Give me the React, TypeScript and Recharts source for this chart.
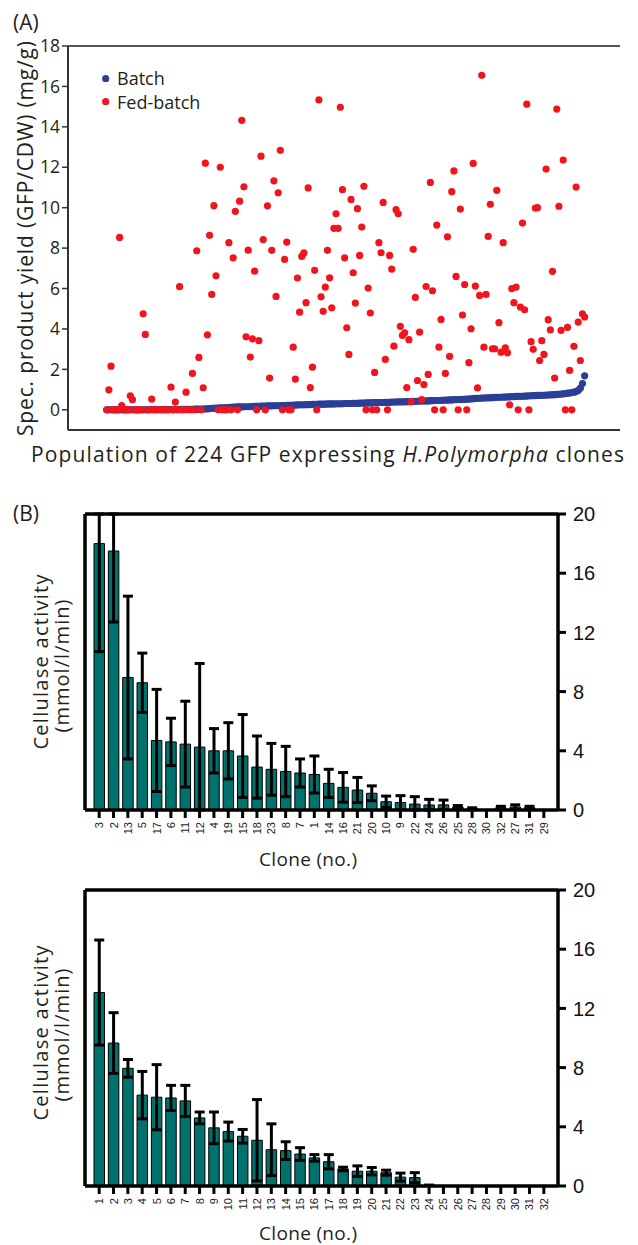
import React from 'react';
import {
  ScatterChart,
  Scatter,
  XAxis,
  YAxis,
  Legend,
  ReferenceLine,
  BarChart,
  Bar,
  ErrorBar,
} from 'recharts';

// ---------- Panel A: 224 clones, ranked by batch yield ----------
const batchYield = [
  0, 0, 0, 0, 0, 0, 0, 0, 0, 0, 0, 0, 0, 0, 0, 0,
  0, 0, 0, 0, 0.01, 0.01, 0.01, 0.01, 0.01, 0.01, 0.01, 0.01, 0.01, 0.01, 0.01, 0.01,
  0.01, 0.01, 0.01, 0.02, 0.02, 0.02, 0.02, 0.02, 0.02, 0.03, 0.03, 0.03, 0.04, 0.04, 0.05, 0.05,
  0.06, 0.07, 0.07, 0.08, 0.08, 0.09, 0.1, 0.1, 0.11, 0.11, 0.12, 0.13, 0.13, 0.14, 0.14, 0.14,
  0.15, 0.15, 0.15, 0.16, 0.16, 0.17, 0.17, 0.17, 0.18, 0.18, 0.18, 0.19, 0.19, 0.19, 0.2, 0.2,
  0.2, 0.21, 0.21, 0.21, 0.22, 0.22, 0.22, 0.23, 0.23, 0.24, 0.25, 0.25, 0.25, 0.26, 0.26, 0.26,
  0.27, 0.27, 0.27, 0.28, 0.28, 0.28, 0.28, 0.29, 0.29, 0.29, 0.29, 0.3, 0.3, 0.3, 0.3, 0.31,
  0.31, 0.31, 0.31, 0.32, 0.32, 0.32, 0.33, 0.33, 0.33, 0.34, 0.34, 0.34, 0.35, 0.35, 0.35, 0.36,
  0.36, 0.36, 0.37, 0.37, 0.37, 0.38, 0.38, 0.38, 0.39, 0.39, 0.39, 0.4, 0.4, 0.4, 0.41, 0.41,
  0.42, 0.42, 0.43, 0.43, 0.43, 0.44, 0.44, 0.45, 0.45, 0.46, 0.46, 0.46, 0.47, 0.47, 0.48, 0.48,
  0.49, 0.49, 0.5, 0.5, 0.51, 0.51, 0.52, 0.52, 0.53, 0.53, 0.54, 0.55, 0.56, 0.57, 0.57, 0.58,
  0.58, 0.59, 0.59, 0.6, 0.6, 0.61, 0.61, 0.62, 0.62, 0.63, 0.63, 0.64, 0.64, 0.65, 0.65, 0.66,
  0.66, 0.67, 0.67, 0.68, 0.68, 0.69, 0.69, 0.7, 0.7, 0.71, 0.71, 0.72, 0.72, 0.73, 0.73, 0.74,
  0.75, 0.75, 0.76, 0.77, 0.78, 0.79, 0.8, 0.82, 0.83, 0.85, 0.87, 0.9, 0.96, 1.07, 1.3, 1.68,
];

const fedBatchYield = [
  0, 0.99, 2.16, 0, 0, 0, 8.53, 0.21, 0, 0, 0, 0.69, 0.5, 0, 0, 0,
  0, 4.75, 3.73, 0, 0, 0.53, 0, 0, 0, 0, 0, 0, 0, 0, 1.12, 0,
  0.38, 0, 6.09, 0, 0, 0.87, 0, 0, 1.8, 0, 7.87, 2.59, 0, 1.09, 12.2, 3.71,
  8.63, 5.71, 10.1, 6.63, 0, 12.0, 0, 0, 0, 8.27, 0, 7.52, 9.82, 0, 10.32, 14.32,
  11.03, 3.61, 7.9, 2.61, 3.51, 6.86, 0, 3.42, 12.55, 8.42, 0, 10.09, 1.57, 7.89, 11.33, 5.61,
  10.74, 12.84, 0, 7.44, 8.3, 0, 0, 3.1, 1.52, 6.52, 4.83, 7.59, 7.76, 5.3, 10.98, 1.1,
  2.11, 6.9, 0, 15.33, 5.59, 4.87, 6.07, 7.89, 6.53, 5.05, 8.98, 9.7, 8.98, 14.97, 10.89, 7.52,
  4.06, 2.74, 10.41, 6.78, 5.28, 9.95, 7.64, 9.04, 11.06, 0, 6.02, 4.79, 0, 1.85, 0, 8.27,
  7.77, 10.26, 2.49, 0, 7.64, 6.96, 3.15, 9.9, 9.7, 4.13, 3.68, 3.81, 1.1, 3.47, 0.4, 7.94,
  5.56, 1.45, 3.84, 0.51, 1.25, 6.1, 1.75, 11.25, 5.89, 0, 9.14, 3.1, 4.47, 0, 1.8, 8.56,
  2.64, 10.79, 11.82, 6.6, 0, 9.93, 4.69, 6.2, 0, 2.33, 4.01, 12.19, 6.12, 1.08, 5.66, 16.55,
  3.1, 5.71, 8.58, 10.17, 3.02, 3.02, 10.86, 4.31, 2.85, 8.27, 3.07, 2.82, 0.25, 6.0, 5.3, 6.07,
  0, 5.08, 9.24, 4.95, 15.12, 0, 3.37, 2.99, 9.98, 10.0, 2.44, 3.42, 2.74, 11.91, 4.46, 3.96,
  6.85, 1.57, 14.88, 10.07, 3.93, 12.36, 0, 4.08, 1.95, 0, 3.14, 11.02, 4.34, 2.44, 4.75, 4.59,
];

const yieldTicks = [0, 2, 4, 6, 8, 10, 12, 14, 16, 18];
const rankTicks = Array.from({ length: 258 }, (_, i) => i - 17);

// ---------- Panel B (upper) ----------
const clonesUpper = [
  '3', '2', '13', '5', '17', '6', '11', '12', '4', '19', '15', '18', '23', '8', '7', '1',
  '14', '16', '21', '20', '10', '9', '22', '24', '26', '25', '28', '30', '32', '27', '31', '29',
];
const activityUpper = [
  18.0, 17.5, 8.95, 8.6, 4.7, 4.6, 4.45, 4.25, 4.0, 4.0, 3.65, 2.9, 2.75, 2.6, 2.5, 2.4,
  1.8, 1.53, 1.35, 1.13, 0.56, 0.5, 0.4, 0.34, 0.35, 0.2, 0.1, 0, 0.15, 0.2, 0.15, 0,
];
const errorUpper = [
  7.3, 4.8, 5.5, 2.0, 3.45, 1.6, 2.9, 5.65, 1.5, 1.9, 2.8, 2.1, 1.75, 1.7, 0.95, 1.25,
  0.95, 1.0, 0.85, 0.5, 0.38, 0.47, 0.5, 0.38, 0.32, 0.1, 0.05, 0, 0.1, 0.15, 0.1, 0,
];

// ---------- Panel B (lower) ----------
const clonesLower = [
  '1', '2', '3', '4', '5', '6', '7', '8', '9', '10', '11', '12', '13', '14', '15', '16',
  '17', '18', '19', '20', '21', '22', '23', '24', '25', '26', '27', '28', '29', '30', '31', '32',
];
const activityLower = [
  13.07, 9.66, 7.95, 6.14, 6.0, 5.95, 5.75, 4.6, 3.93, 3.68, 3.36, 3.09, 2.45, 2.39, 2.16, 1.9,
  1.64, 1.15, 1.0, 1.0, 0.9, 0.6, 0.57, 0.05, 0, 0, 0, 0, 0, 0, 0, 0,
];
const errorLower = [
  3.55, 2.05, 0.6, 1.6, 2.2, 0.85, 1.05, 0.4, 1.07, 0.64, 0.46, 2.75, 1.75, 0.6, 0.43, 0.22,
  0.48, 0.12, 0.36, 0.25, 0.17, 0.27, 0.33, 0, 0, 0, 0, 0, 0, 0, 0, 0,
];
const activityTicks = [0, 4, 8, 12, 16, 20];
const ACTIVITY_MAX = 20;

const batchData = batchYield.map((v, i) => ({ rank: i + 1, value: v }));
const fedData = fedBatchYield.map((v, i) => ({ rank: i + 1, value: v }));
const upperData = clonesUpper.map((c, i) => ({ clone: c, activity: activityUpper[i], error: errorUpper[i] }));
const lowerData = clonesLower.map((c, i) => ({ clone: c, activity: activityLower[i], error: errorLower[i] }));

// error whiskers are cut at the frame of the plot, as in the figure
const clippedError = (d: any) => [
  Math.min(d.error, d.activity),
  Math.min(d.error, ACTIVITY_MAX - d.activity),
];

const BLUE = '#2b3f99';
const RED = '#f2141c';
const TEAL = '#00726d';
const TXT = '#231f20';
const TITLE_FONT = '"Open Sans", "Noto Sans", sans-serif';
const ARIAL = '"Liberation Sans", Arial, sans-serif';

const dot = (color: string) => (p: any) =>
  <circle cx={p.cx} cy={p.cy} r={3.6} fill={color} />;

const RotTick = (props: any) => {
  const { x, y, payload } = props;
  return (
    <text
      x={x}
      y={y}
      transform={`rotate(-90 ${x} ${y})`}
      textAnchor="end"
      dominantBaseline="central"
      fontSize={11}
      fontFamily={ARIAL}
      fill="#222"
    >
      {payload.value}
    </text>
  );
};

const LegendContent = (props: any) => {
  const { payload } = props;
  return (
    <div>
      {(payload || []).map((p: any) => (
        <div
          key={p.value}
          style={{ display: 'flex', alignItems: 'center', height: 23.4, fontSize: 18, fontFamily: TITLE_FONT, color: TXT }}
        >
          <svg width={7.4} height={7.4} style={{ display: 'block' }}>
            <circle cx={3.7} cy={3.7} r={3.6} fill={p.color} />
          </svg>
          <span style={{ marginLeft: 7.4, lineHeight: '18px' }}>{p.value}</span>
        </div>
      ))}
    </div>
  );
};

function ActivityChart({ data }: { data: any[] }) {
  return (
    <BarChart width={638} height={350} data={data} margin={{ top: 24, right: 0, bottom: 0, left: 84 }} barSize={10.5}>
      <XAxis
        dataKey="clone"
        interval={0}
        padding={{ left: 7, right: 7 }}
        height={30}
        tickSize={8}
        tickMargin={4}
        axisLine={{ stroke: '#000', strokeWidth: 3.5 }}
        tickLine={{ stroke: '#000', strokeWidth: 3 }}
        tick={<RotTick />}
      />
      <YAxis
        yAxisId="l"
        type="number"
        domain={[0, ACTIVITY_MAX]}
        ticks={[0, ACTIVITY_MAX]}
        allowDataOverflow
        width={1}
        tick={false}
        tickLine={false}
        axisLine={{ stroke: '#000', strokeWidth: 3.5 }}
      />
      <YAxis
        yAxisId="r"
        orientation="right"
        type="number"
        domain={[0, ACTIVITY_MAX]}
        ticks={activityTicks}
        interval={0}
        allowDataOverflow
        width={80}
        tickSize={8}
        tickMargin={7}
        axisLine={{ stroke: '#000', strokeWidth: 3.5 }}
        tickLine={{ stroke: '#000', strokeWidth: 3 }}
        tick={{ fill: '#111', fontSize: 20, fontFamily: ARIAL }}
      />
      <Bar yAxisId="r" dataKey="activity" fill={TEAL} stroke="#000" strokeWidth={1} isAnimationActive={false}>
        <ErrorBar dataKey={clippedError} width={5} strokeWidth={3} stroke="#000" direction="y" />
      </Bar>
      <ReferenceLine yAxisId="r" y={ACTIVITY_MAX} stroke="#000" strokeWidth={3.5} />
    </BarChart>
  );
}

export default function App() {
  return (
    <div style={{ position: 'absolute', left: 0, top: 0, width: 638, height: 1245, background: '#fff', overflow: 'hidden' }}>
      {/* Panel A */}
      <div style={{ position: 'absolute', left: 0, top: 0 }}>
        <ScatterChart width={638} height={445} margin={{ top: 46, right: 18, bottom: 0, left: 0 }}>
          <XAxis
            type="number"
            dataKey="rank"
            domain={[-17.07, 240.5]}
            ticks={rankTicks}
            interval={0}
            allowDataOverflow
            height={15}
            tickSize={7}
            tick={false}
            axisLine={{ stroke: '#333', strokeWidth: 2 }}
            tickLine={{ stroke: '#777', strokeWidth: 0.8 }}
          />
          <YAxis
            yAxisId="l"
            type="number"
            dataKey="value"
            domain={[-1, 18]}
            ticks={yieldTicks}
            interval={0}
            allowDataOverflow
            width={68}
            tickSize={6}
            tickMargin={2}
            axisLine={{ stroke: '#333', strokeWidth: 2 }}
            tickLine={{ stroke: '#333', strokeWidth: 1.5 }}
            tick={{ fill: TXT, fontSize: 17.5, fontFamily: TITLE_FONT }}
          />
          <YAxis
            yAxisId="r"
            orientation="right"
            type="number"
            dataKey="value"
            domain={[-1, 18]}
            ticks={yieldTicks}
            interval={0}
            allowDataOverflow
            mirror
            width={1}
            tickSize={6}
            tick={false}
            axisLine={false}
            tickLine={{ stroke: '#333', strokeWidth: 1.5 }}
          />
          <ReferenceLine yAxisId="l" y={18} stroke="#555" strokeWidth={2} />
          <Legend
            layout="vertical"
            align="center"
            verticalAlign="middle"
            wrapperStyle={{ left: 102.3, top: 66.5, width: 'auto', height: 'auto' }}
            content={<LegendContent />}
          />
          <Scatter
            name="Batch"
            yAxisId="l"
            data={batchData}
            fill={BLUE}
            shape={dot(BLUE)}
            isAnimationActive={false}
          />
          <Scatter
            name="Fed-batch"
            yAxisId="l"
            data={fedData}
            fill={RED}
            shape={dot(RED)}
            isAnimationActive={false}
          />
        </ScatterChart>
      </div>

      {/* Panel B upper */}
      <div style={{ position: 'absolute', left: 0, top: 490 }}>
        <ActivityChart data={upperData} />
      </div>

      {/* Panel B lower */}
      <div style={{ position: 'absolute', left: 0, top: 866 }}>
        <ActivityChart data={lowerData} />
      </div>

      {/* Titles overlay */}
      <svg width={638} height={1245} style={{ position: 'absolute', left: 0, top: 0, pointerEvents: 'none' }}>
        <g fill={TXT} fontFamily={TITLE_FONT}>
          <text x={13} y={30} fontSize={21}>(A)</text>
          <text
            x={32.5}
            y={238.5}
            fontSize={21}
            textAnchor="middle"
            transform="rotate(-90 32.5 238.5)"
            textLength={395}
          >
            Spec. product yield (GFP/CDW) (mg/g)
          </text>
          <text x={327.5} y={462} fontSize={21} textAnchor="middle" textLength={593}>
            Population of 224 GFP expressing <tspan fontStyle="italic">H.Polymorpha</tspan> clones
          </text>

          <text x={13} y={521} fontSize={21}>(B)</text>
          <text x={48} y={662} fontSize={20} textAnchor="middle" transform="rotate(-90 48 662)" textLength={175}>
            Cellulase activity
          </text>
          <text x={69} y={666} fontSize={20} textAnchor="middle" transform="rotate(-90 69 666)" textLength={133}>
            (mmol/l/min)
          </text>
          <text x={308} y={866} fontSize={19} textAnchor="middle" textLength={98}>
            Clone (no.)
          </text>

          <text x={48} y={1033} fontSize={20} textAnchor="middle" transform="rotate(-90 48 1033)" textLength={175}>
            Cellulase activity
          </text>
          <text x={69} y={1035} fontSize={20} textAnchor="middle" transform="rotate(-90 69 1035)" textLength={133}>
            (mmol/l/min)
          </text>
          <text x={308} y={1240} fontSize={19} textAnchor="middle" textLength={98}>
            Clone (no.)
          </text>
        </g>
      </svg>
    </div>
  );
}
